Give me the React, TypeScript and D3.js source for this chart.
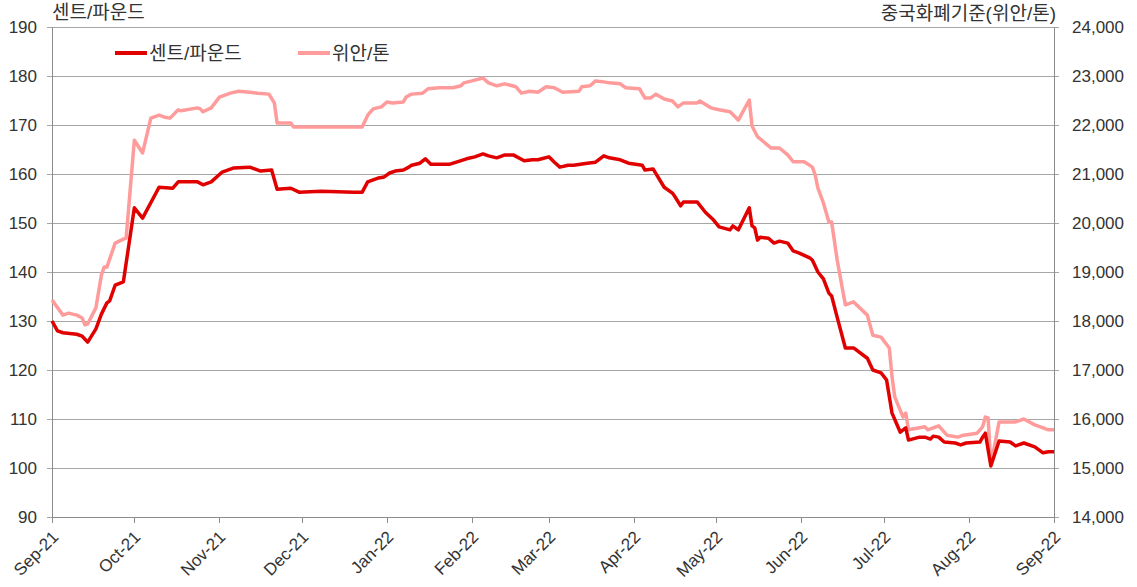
import * as d3 from "d3";
import React from "react";

// 센트/파운드 (left axis)
const centDates = [
  "2021-09-01", "2021-09-03", "2021-09-05", "2021-09-10", "2021-09-12", "2021-09-14",
  "2021-09-17", "2021-09-19", "2021-09-21", "2021-09-22", "2021-09-24", "2021-09-27",
  "2021-10-01", "2021-10-04", "2021-10-10", "2021-10-15", "2021-10-17", "2021-10-24",
  "2021-10-26", "2021-10-29", "2021-11-02", "2021-11-06", "2021-11-12", "2021-11-16",
  "2021-11-20", "2021-11-22", "2021-11-27", "2021-11-30", "2021-12-08", "2021-12-20",
  "2021-12-23", "2021-12-25", "2021-12-29", "2021-12-31", "2022-01-02", "2022-01-04",
  "2022-01-07", "2022-01-09", "2022-01-10", "2022-01-13", "2022-01-15", "2022-01-17",
  "2022-01-24", "2022-01-30", "2022-02-02", "2022-02-05", "2022-02-07", "2022-02-10",
  "2022-02-13", "2022-02-16", "2022-02-20", "2022-02-23", "2022-02-25", "2022-03-01",
  "2022-03-03", "2022-03-05", "2022-03-08", "2022-03-10", "2022-03-15", "2022-03-18",
  "2022-03-21", "2022-03-23", "2022-03-27", "2022-03-30", "2022-04-04", "2022-04-05",
  "2022-04-08", "2022-04-12", "2022-04-15", "2022-04-16", "2022-04-18", "2022-04-19",
  "2022-04-24", "2022-04-27", "2022-04-30", "2022-05-02", "2022-05-06", "2022-05-07",
  "2022-05-09", "2022-05-13", "2022-05-14", "2022-05-15", "2022-05-16", "2022-05-17",
  "2022-05-20", "2022-05-22", "2022-05-24", "2022-05-27", "2022-05-29", "2022-05-31",
  "2022-06-04", "2022-06-05", "2022-06-07", "2022-06-09", "2022-06-11", "2022-06-12",
  "2022-06-14", "2022-06-17", "2022-06-20", "2022-06-25", "2022-06-27", "2022-06-30",
  "2022-07-02", "2022-07-04", "2022-07-07", "2022-07-09", "2022-07-10", "2022-07-14",
  "2022-07-16", "2022-07-18", "2022-07-19", "2022-07-21", "2022-07-23", "2022-07-27",
  "2022-07-29", "2022-07-31", "2022-08-05", "2022-08-06", "2022-08-07", "2022-08-09",
  "2022-08-12", "2022-08-16", "2022-08-18", "2022-08-21", "2022-08-25", "2022-08-28",
  "2022-08-30", "2022-09-01",
];
const centValues = [
  130.0, 128.0, 127.6, 127.3, 126.9, 125.7,
  128.4, 131.4, 133.7, 134.1, 137.3, 138.0,
  153.1, 151.0, 157.3, 157.1, 158.4, 158.4,
  157.8, 158.4, 160.4, 161.2, 161.4, 160.6,
  160.8, 156.9, 157.1, 156.3, 156.5, 156.3,
  156.3, 158.4, 159.2, 159.4, 160.2, 160.6,
  160.8, 161.4, 161.8, 162.2, 163.1, 162.0,
  162.0, 163.1, 163.5, 164.1, 163.7, 163.3,
  163.9, 163.9, 162.7, 162.9, 162.9, 163.5,
  162.4, 161.4, 161.8, 161.8, 162.2, 162.4,
  163.7, 163.3, 162.9, 162.2, 161.8, 160.8,
  161.0, 157.3, 156.1, 155.3, 153.5, 154.3,
  154.3, 152.2, 150.6, 149.2, 148.6, 149.4,
  148.6, 153.1, 149.4, 149.0, 146.5, 147.1,
  146.9, 145.9, 146.3, 145.9, 144.3, 143.9,
  142.9, 142.4, 140.0, 138.6, 135.7, 135.1,
  130.8, 124.5, 124.5, 122.4, 120.0, 119.4,
  118.0, 111.2, 107.3, 108.2, 105.7, 106.3,
  106.3, 105.9, 106.5, 106.3, 105.3, 105.1,
  104.7, 105.1, 105.3, 106.3, 107.1, 100.4,
  105.5, 105.3, 104.5, 105.1, 104.3, 103.1,
  103.3, 103.3,
];

// 위안/톤 (right axis)
const yuanDates = [
  "2021-09-01", "2021-09-05", "2021-09-07", "2021-09-10", "2021-09-12", "2021-09-13",
  "2021-09-14", "2021-09-17", "2021-09-19", "2021-09-20", "2021-09-21", "2021-09-24",
  "2021-09-27", "2021-09-28", "2021-10-01", "2021-10-04", "2021-10-07", "2021-10-10",
  "2021-10-12", "2021-10-14", "2021-10-17", "2021-10-18", "2021-10-24", "2021-10-25",
  "2021-10-26", "2021-10-29", "2021-11-01", "2021-11-05", "2021-11-08", "2021-11-12",
  "2021-11-15", "2021-11-19", "2021-11-21", "2021-11-22", "2021-11-27", "2021-11-28",
  "2021-12-23", "2021-12-25", "2021-12-27", "2021-12-30", "2022-01-01", "2022-01-03",
  "2022-01-07", "2022-01-08", "2022-01-10", "2022-01-14", "2022-01-16", "2022-01-20",
  "2022-01-25", "2022-01-28", "2022-01-29", "2022-02-01", "2022-02-05", "2022-02-07",
  "2022-02-10", "2022-02-13", "2022-02-17", "2022-02-19", "2022-02-22", "2022-02-25",
  "2022-02-28", "2022-03-03", "2022-03-06", "2022-03-12", "2022-03-13", "2022-03-16",
  "2022-03-18", "2022-03-21", "2022-03-23", "2022-03-27", "2022-03-29", "2022-04-03",
  "2022-04-05", "2022-04-07", "2022-04-09", "2022-04-12", "2022-04-15", "2022-04-17",
  "2022-04-19", "2022-04-24", "2022-04-25", "2022-04-29", "2022-05-02", "2022-05-06",
  "2022-05-09", "2022-05-13", "2022-05-14", "2022-05-16", "2022-05-21", "2022-05-24",
  "2022-05-27", "2022-05-29", "2022-06-02", "2022-06-05", "2022-06-06", "2022-06-07",
  "2022-06-09", "2022-06-11", "2022-06-12", "2022-06-14", "2022-06-17", "2022-06-20",
  "2022-06-25", "2022-06-27", "2022-06-30", "2022-07-03", "2022-07-04", "2022-07-05",
  "2022-07-08", "2022-07-09", "2022-07-10", "2022-07-16", "2022-07-17", "2022-07-21",
  "2022-07-24", "2022-07-28", "2022-07-30", "2022-08-04", "2022-08-06", "2022-08-07",
  "2022-08-08", "2022-08-09", "2022-08-12", "2022-08-18", "2022-08-21", "2022-08-25",
  "2022-08-28", "2022-08-30", "2022-09-01",
];
const yuanValues = [
  18430, 18120, 18160, 18120, 18060, 17920,
  17940, 18270, 18940, 19100, 19100, 19590,
  19670, 19690, 21690, 21430, 22140, 22200,
  22160, 22140, 22310, 22290, 22350, 22330,
  22270, 22350, 22570, 22650, 22690, 22670,
  22650, 22630, 22450, 22040, 22040, 21960,
  21960, 22200, 22330, 22370, 22470, 22450,
  22470, 22570, 22630, 22650, 22740, 22760,
  22760, 22800, 22860, 22900, 22960, 22860,
  22800, 22840, 22780, 22650, 22690, 22670,
  22780, 22760, 22670, 22690, 22780, 22800,
  22900, 22880, 22860, 22840, 22760, 22740,
  22550, 22550, 22630, 22530, 22490, 22370,
  22450, 22450, 22490, 22350, 22310, 22270,
  22100, 22510, 21980, 21760, 21530, 21530,
  21390, 21250, 21250, 21140, 20980, 20710,
  20410, 20020, 20020, 19250, 18330, 18390,
  18120, 17710, 17670, 17450, 16860, 16450,
  16040, 16120, 15780, 15840, 15780, 15860,
  15670, 15630, 15670, 15710, 15840, 16040,
  16020, 15060, 15940, 15940, 16000, 15880,
  15820, 15780, 15780,
];

const monthTicks = [
  "2021-09-01", "2021-10-01", "2021-11-01", "2021-12-01", "2022-01-01", "2022-02-01",
  "2022-03-01", "2022-04-01", "2022-05-01", "2022-06-01", "2022-07-01", "2022-08-01",
  "2022-09-01",
];
const leftTicks = [90, 100, 110, 120, 130, 140, 150, 160, 170, 180, 190];
const rightTicks = [14000, 15000, 16000, 17000, 18000, 19000, 20000, 21000, 22000, 23000, 24000];

const leftTitle = "센트/파운드";
const rightTitle = "중국화폐기준(위안/톤)";
const seriesNames = ["센트/파운드", "위안/톤"];

const RED = "#e00000";
const PINK = "#ff9b9b";
const FONT = "'Liberation Sans', Arial, 'Noto Sans CJK KR', sans-serif";

export default function App(): React.ReactElement {
  const width = 1137;
  const height = 587;
  const margin = { bottom: 70, left: 52, right: 83, top: 27 };
  const innerW = width - margin.left - margin.right;
  const innerH = height - margin.top - margin.bottom;

  const parse = d3.timeParse("%Y-%m-%d");
  const fmt = d3.timeFormat("%b-%y");

  const x = d3
    .scaleTime()
    .domain([parse("2021-09-01") as Date, parse("2022-09-01") as Date])
    .range([0, innerW]);
  const yL = d3.scaleLinear().domain([90, 190]).range([innerH, 0]);
  const yR = d3.scaleLinear().domain([14000, 24000]).range([innerH, 0]);

  const cent = centDates.map((d, i) => ({ date: parse(d) as Date, v: centValues[i] }));
  const yuan = yuanDates.map((d, i) => ({ date: parse(d) as Date, v: yuanValues[i] }));

  const lineL = d3
    .line<{ date: Date; v: number }>()
    .x((d) => x(d.date))
    .y((d) => yL(d.v));
  const lineR = d3
    .line<{ date: Date; v: number }>()
    .x((d) => x(d.date))
    .y((d) => yR(d.v));

  const tickColor = "#333";
  const gridColor = "#a6a6a6";
  const axisColor = "#8c8c8c";
  const fs = 17;
  const fsKo = 19;

  return (
    <svg
      height={height}
      style={{ left: 0, position: "absolute", top: 0 }}
      width={width}
      fontFamily={FONT}
    >
      <rect fill="#fff" height={height} width={width} />
      <g transform={`translate(${margin.left},${margin.top})`}>
        {/* gridlines */}
        {leftTicks.map((t) => (
          <line
            key={`g-${t}`}
            stroke={gridColor}
            strokeWidth={1}
            x1={-5}
            x2={innerW + 5}
            y1={Math.round(yL(t)) + 0.5}
            y2={Math.round(yL(t)) + 0.5}
          />
        ))}
        {/* axes */}
        <line stroke={axisColor} x1={0.5} x2={0.5} y1={0} y2={innerH + 0.5} />
        <line stroke={axisColor} x1={innerW + 0.5} x2={innerW + 0.5} y1={0} y2={innerH + 0.5} />
        <line stroke={axisColor} x1={0} x2={innerW} y1={innerH + 0.5} y2={innerH + 0.5} />

        {/* x ticks */}
        {monthTicks.map((m) => {
          const d = parse(m) as Date;
          const px = Math.round(x(d)) + 0.5;
          return (
            <g key={`x-${m}`}>
              <line stroke={axisColor} x1={px} x2={px} y1={innerH} y2={innerH + 6} />
              <text
                fill={tickColor}
                fontSize={fs}
                textAnchor="end"
                transform={`translate(${px + 7},${innerH + 21}) rotate(-45)`}
              >
                {fmt(d)}
              </text>
            </g>
          );
        })}

        {/* left tick labels */}
        {leftTicks.map((t) => (
          <text
            fill={tickColor}
            fontSize={fs}
            key={`l-${t}`}
            textAnchor="end"
            x={-15}
            y={yL(t) + 6}
          >
            {t}
          </text>
        ))}
        {/* right tick labels */}
        {rightTicks.map((t) => (
          <text
            fill={tickColor}
            fontSize={fs}
            key={`r-${t}`}
            textAnchor="start"
            x={innerW + 18}
            y={yR(t) + 6}
          >
            {d3.format(",")(t)}
          </text>
        ))}

        {/* titles */}
        <text fill={tickColor} fontSize={fsKo} x={0} y={-8}>
          {leftTitle}
        </text>
        <text fill={tickColor} fontSize={fsKo} textAnchor="end" x={innerW + 2} y={-7}>
          {rightTitle}
        </text>

        {/* series */}
        <path d={lineR(yuan) ?? ""} fill="none" stroke={PINK} strokeLinejoin="round" strokeWidth={3.5} />
        <path d={lineL(cent) ?? ""} fill="none" stroke={RED} strokeLinejoin="round" strokeWidth={3.5} />

        {/* legend */}
        <g transform={`translate(63,26)`}>
          <line stroke={RED} strokeWidth={4} x1={0} x2={32} y1={0} y2={0} />
          <text fill={tickColor} fontSize={fsKo} x={34} y={7}>
            {seriesNames[0]}
          </text>
          <line stroke={PINK} strokeWidth={4} x1={183} x2={215} y1={0} y2={0} />
          <text fill={tickColor} fontSize={fsKo} x={217} y={7}>
            {seriesNames[1]}
          </text>
        </g>
      </g>
    </svg>
  );
}
